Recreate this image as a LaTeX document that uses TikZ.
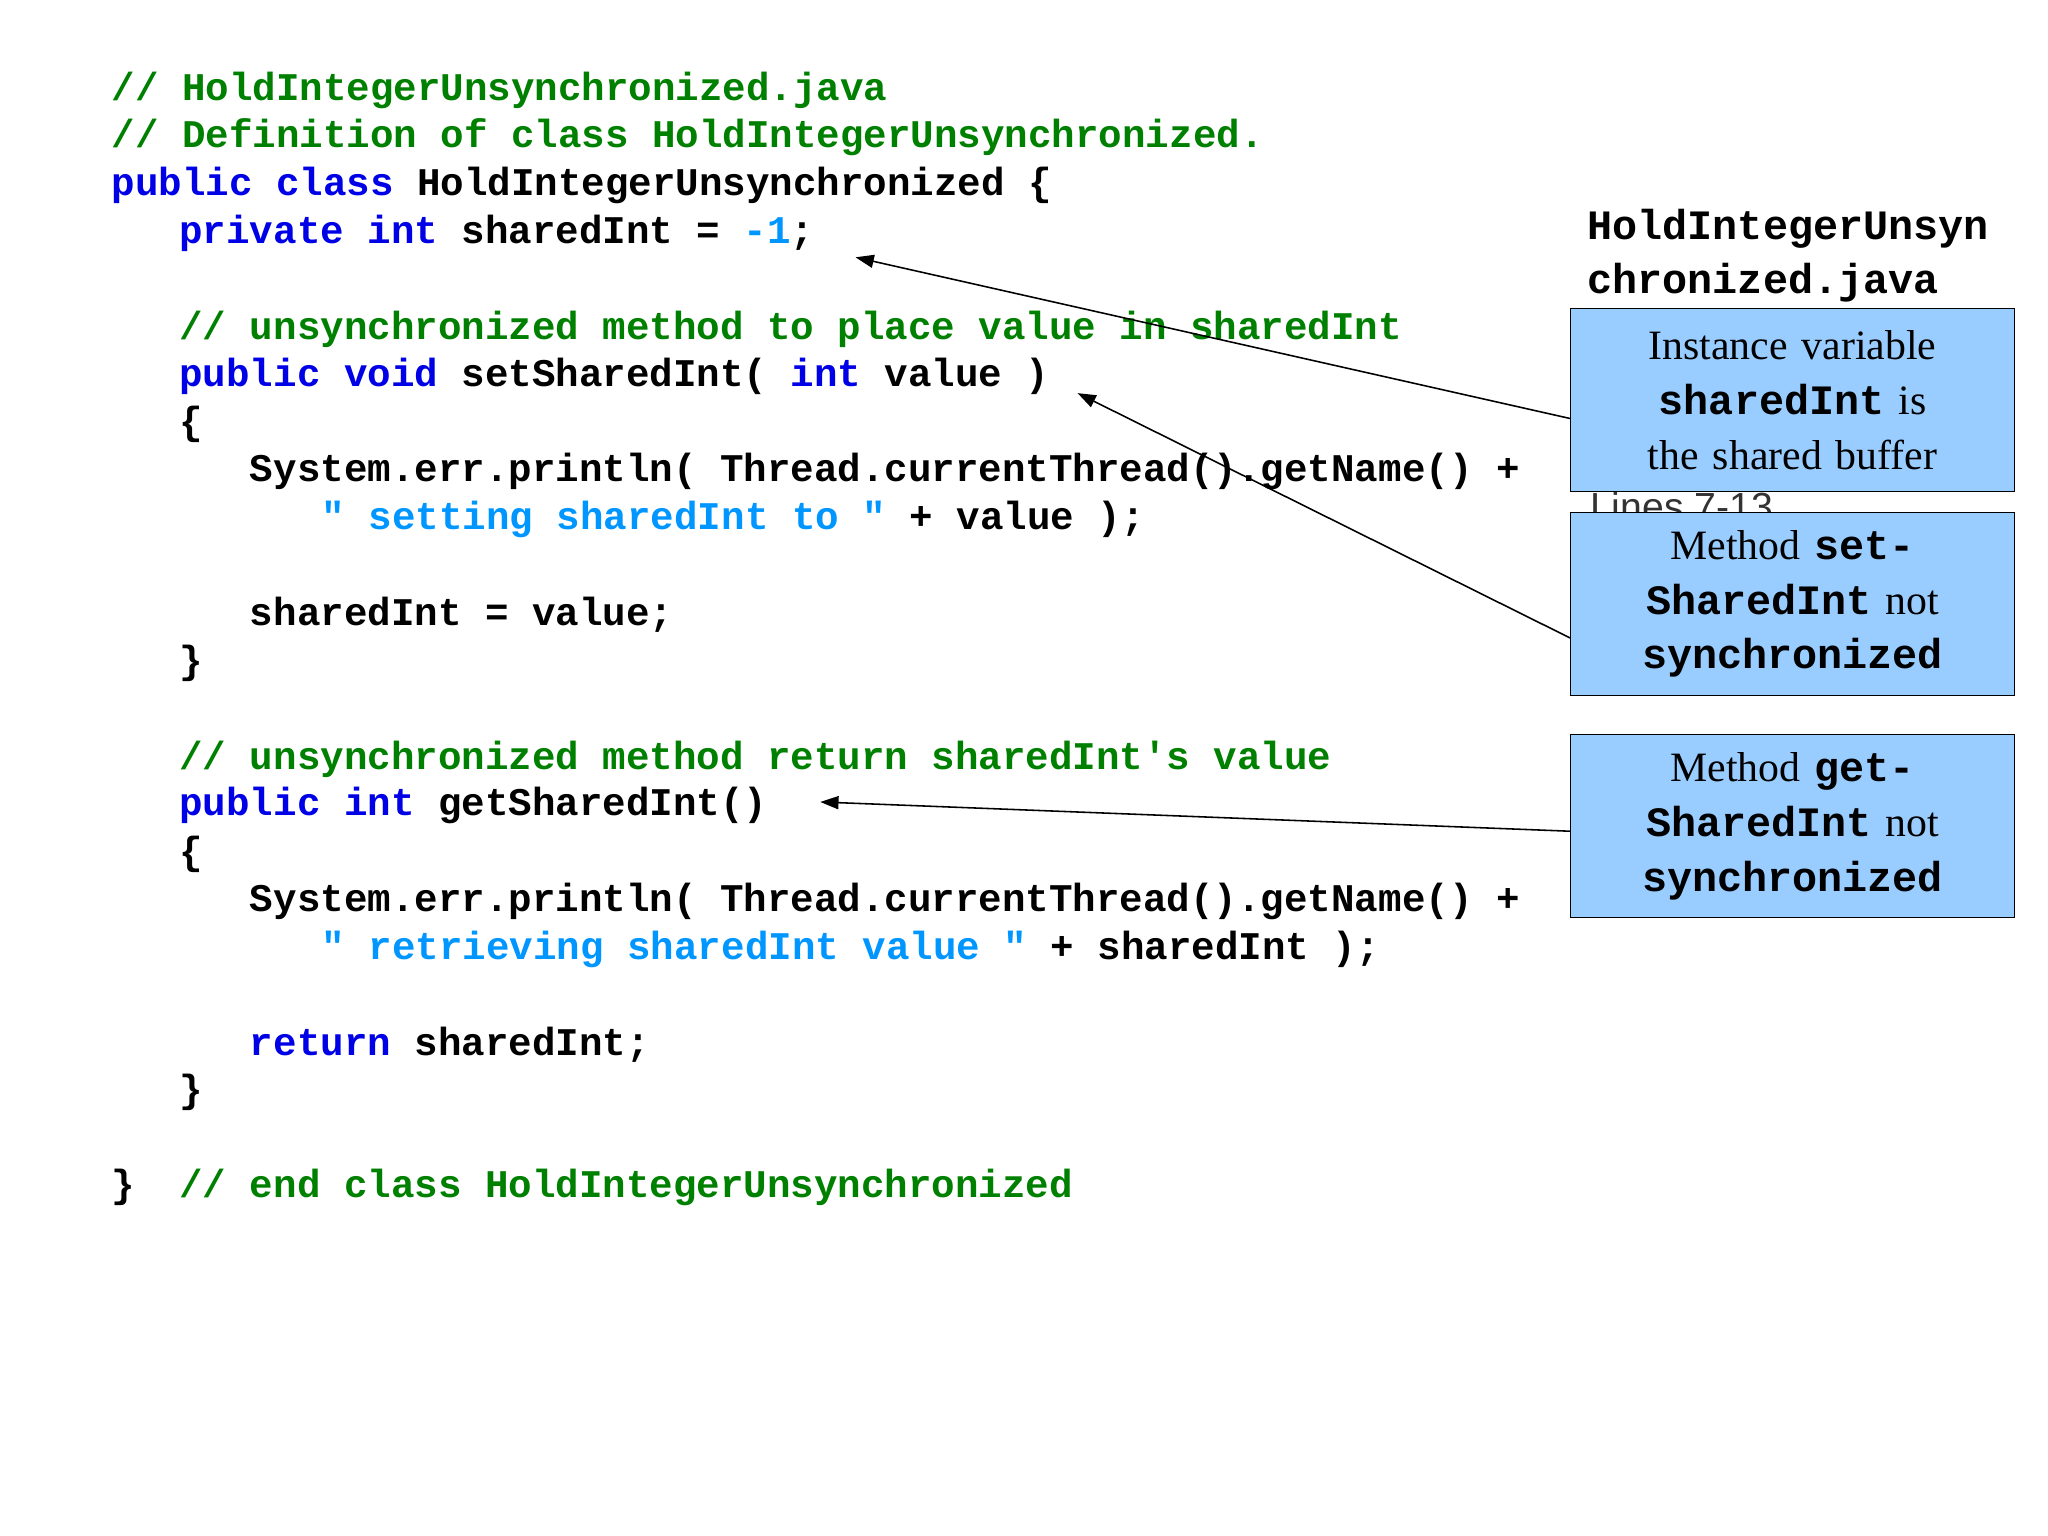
\documentclass[tikz,border=0pt]{standalone}
\usepackage{fontspec}
\setmainfont{Liberation Serif}
\newfontfamily\cm{Liberation Mono}
\newfontfamily\lsans{Liberation Sans}
\usetikzlibrary{arrows.meta}
\definecolor{cgreen}{RGB}{0,128,0}
\definecolor{cblue}{RGB}{0,0,230}
\definecolor{cstr}{RGB}{0,150,255}
\definecolor{boxblue}{RGB}{153,204,255}
\newcommand{\kw}[1]{\textcolor{cblue}{#1}}
\newcommand{\cmt}[1]{\textcolor{cgreen}{#1}}
\newcommand{\str}[1]{\textcolor{cstr}{#1}}
\begin{document}
\begin{tikzpicture}[x=0.5pt,y=-0.5pt,
  code/.style={anchor=west,inner sep=0pt,font=\cm\bfseries\fontsize{15}{18}\selectfont},
  note/.style={draw=black,fill=boxblue,minimum width=170pt,minimum height=70pt,text width=166pt,align=center,inner sep=1pt,font=\fontsize{16}{21}\selectfont},
  bm/.style={},
  arr/.style={-{Triangle[length=7pt,width=5pt]},line width=0.6pt}]
\useasboundingbox (0,0) rectangle (1568,1176);
\node[code] (l1) at (85,69) {\cmt{// HoldIntegerUnsynchronized.java}};
\node[code] (l2) at (85,105) {\cmt{// Definition of class HoldIntegerUnsynchronized.}};
\node[code] (l3) at (85,142) {\kw{public class} HoldIntegerUnsynchronized \{};
\node[code] (l4) at (137,179) {\kw{private int} sharedInt = \str{-1};};
\node[code] (l5) at (137,252) {\cmt{// unsynchronized method to place value in sharedInt}};
\node[code] (l6) at (137,288) {\kw{public void} setSharedInt( \kw{int} value )};
\node[code] (l7) at (137,325) {\{};
\node[code] (l8) at (191,361) {System.err.println( Thread.currentThread().getName() +};
\node[code] (l9) at (246,398) {\str{" setting sharedInt to "} + value );};
\node[code] (l10) at (191,471) {sharedInt = value;};
\node[code] (l11) at (137,508) {\}};
\node[code] (l12) at (137,581) {\cmt{// unsynchronized method return sharedInt's value}};
\node[code] (l13) at (137,617) {\kw{public int} getSharedInt()};
\node[code] (l14) at (137,654) {\{};
\node[code] (l15) at (191,690) {System.err.println( Thread.currentThread().getName() +};
\node[code] (l16) at (246,727) {\str{" retrieving sharedInt value "} + sharedInt );};
\node[code] (l17) at (191,800) {\kw{return} sharedInt;};
\node[code] (l18) at (137,836) {\}};
\node[code] (l19) at (85,909) {\}};
\node[code] (l20) at (137,909) {\cmt{// end class HoldIntegerUnsynchronized}};
\node[code,anchor=north west,align=left,font=\cm\bfseries\fontsize{16}{20.5}\selectfont] (title) at (1215,160) {HoldIntegerUnsyn\\chronized.java};
\node[anchor=west,inner sep=0pt,font=\lsans\fontsize{15}{18}\selectfont,text=black!80] (lines) at (1217,388) {Lines 7-13};
\node[note,anchor=north west] (b1) at (1202,236) {Instance variable {\cm\bfseries sharedInt} is the shared buffer};
\node[note,anchor=north west] (b2) at (1202,392) {Method {\cm\bfseries setSharedInt} not {\cm\bfseries synchronized}};
\node[note,anchor=north west] (b3) at (1202,562) {Method {\cm\bfseries getSharedInt} not {\cm\bfseries synchronized}};
\coordinate (t1) at (655,197);
\coordinate (t2) at (825,301);
\coordinate (t3) at (628,614);
\draw[arr] (b1.west) ++(0,-7pt) -- (t1);
\draw[arr] (b2.west) ++(0,-13pt) -- (t2);
\draw[arr] (b3.west) ++(0,-2pt) -- (t3);
\end{tikzpicture}
\end{document}
